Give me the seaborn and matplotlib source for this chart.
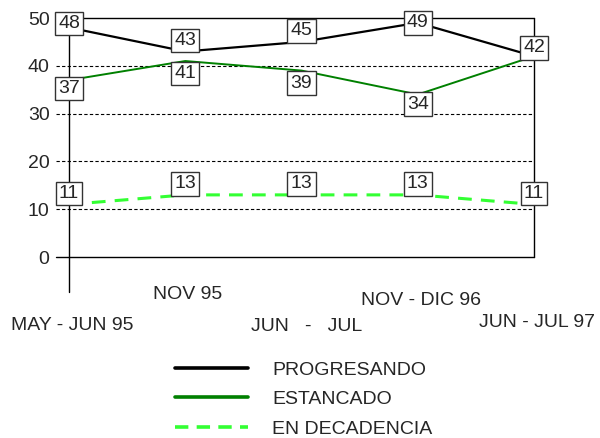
import matplotlib
matplotlib.use("Agg")
import matplotlib.pyplot as plt
import seaborn as sns
import pandas as pd
from matplotlib.lines import Line2D

periods = ["MAY - JUN 95", "NOV 95", "JUN   -   JUL", "NOV - DIC 96", "JUN - JUL 97"]
progresando = [48, 43, 45, 49, 42]
estancado = [37, 41, 39, 34, 42]
decadencia = [11, 13, 13, 13, 11]
series_names = ["PROGRESANDO", "ESTANCADO", "EN DECADENCIA"]

df = pd.DataFrame({"x": list(range(len(periods))) * 3,
                   "valor": progresando + estancado + decadencia,
                   "serie": [s for s in series_names for _ in periods]})

sns.set_style("white")
plt.rcParams['font.family'] = ['Liberation Sans', 'DejaVu Sans']

colors = {"PROGRESANDO": "black", "ESTANCADO": "#008000", "EN DECADENCIA": "#33ff33"}

fig = plt.figure(figsize=(6, 4.38), dpi=100)
ax = fig.add_axes([0.115, 0.4132, 0.775, 0.5457])

sns.lineplot(data=df[df.serie == "PROGRESANDO"], x="x", y="valor", color=colors["PROGRESANDO"],
             linewidth=1.6, legend=False, ax=ax, zorder=3)
sns.lineplot(data=df[df.serie == "ESTANCADO"], x="x", y="valor", color=colors["ESTANCADO"],
             linewidth=1.4, legend=False, ax=ax, zorder=3)
sns.lineplot(data=df[df.serie == "EN DECADENCIA"], x="x", y="valor", color=colors["EN DECADENCIA"],
             linewidth=2.2, legend=False, ax=ax, zorder=3)
ax.lines[-1].set_dashes((4.5, 3))

ax.set_xlim(0, 4)
ax.set_ylim(0, 50)
for s in ax.spines.values():
    s.set_visible(False)

# frame and grid
for yv in [10, 20, 30, 40]:
    ax.plot([-0.11, 4], [yv, yv], color="black", lw=0.8, ls=(0, (3, 2)), clip_on=False, zorder=1)
ax.plot([-0.11, 4], [0, 0], color="black", lw=1, clip_on=False, zorder=2)
ax.plot([0, 4], [50, 50], color="black", lw=1, clip_on=False, zorder=2)
ax.plot([0, 0], [-7.3, 50], color="black", lw=1, clip_on=False, zorder=2)
ax.plot([4, 4], [0, 50], color="black", lw=1, clip_on=False, zorder=2)

ax.set_yticks([0, 10, 20, 30, 40, 50])
ax.tick_params(axis="y", length=0, pad=14, labelsize=14)
ax.set_xticks([2])
ax.set_xticks([1, 3], minor=True)
ax.tick_params(axis="x", which="major", length=25, width=1, color="black", labelbottom=False, direction="out")
ax.tick_params(axis="x", which="minor", length=8, width=1, color="black", labelbottom=False, direction="out")
ax.set_xlabel("")
ax.set_ylabel("")

# staggered category labels
label_offsets = [-49, -27, -50, -31, -47]
label_shift = [0.03, 0.02, 0.04, 0.03, 0.03]
for i, name in enumerate(periods):
    ax.annotate(name, xy=(i + label_shift[i], 0), xycoords="data", xytext=(0, label_offsets[i]),
                textcoords="offset points", ha="center", va="center", fontsize=14, annotation_clip=False)

# value boxes
box = dict(boxstyle="square,pad=0.17", fc="white", ec="#333333", lw=1)
box_offsets = {"PROGRESANDO": [3, 8, 8, 0, 6],
               "ESTANCADO": [-6, -9, -9, -7, None],
               "EN DECADENCIA": [8, 8, 8, 8, 8]}
for name, vals in zip(series_names, [progresando, estancado, decadencia]):
    for i, v in enumerate(vals):
        off = box_offsets[name][i]
        if off is None:
            continue
        ax.annotate(str(v), xy=(i, v), xytext=(0, off), textcoords="offset points",
                    ha="center", va="center", fontsize=14, bbox=box, zorder=5,
                    annotation_clip=False)

handles = [Line2D([], [], color=colors["PROGRESANDO"], lw=2.6),
           Line2D([], [], color=colors["ESTANCADO"], lw=2.6),
           Line2D([], [], color=colors["EN DECADENCIA"], lw=2.6, dashes=(3.7, 2.3))]
fig.legend(handles, series_names, loc="center left", bbox_to_anchor=(0.292, 0.088), frameon=False,
           fontsize=14, handlelength=3.76, handletextpad=1.24, labelspacing=0.62,
           borderpad=0, borderaxespad=0)

fig.savefig("out.png", dpi=100)
